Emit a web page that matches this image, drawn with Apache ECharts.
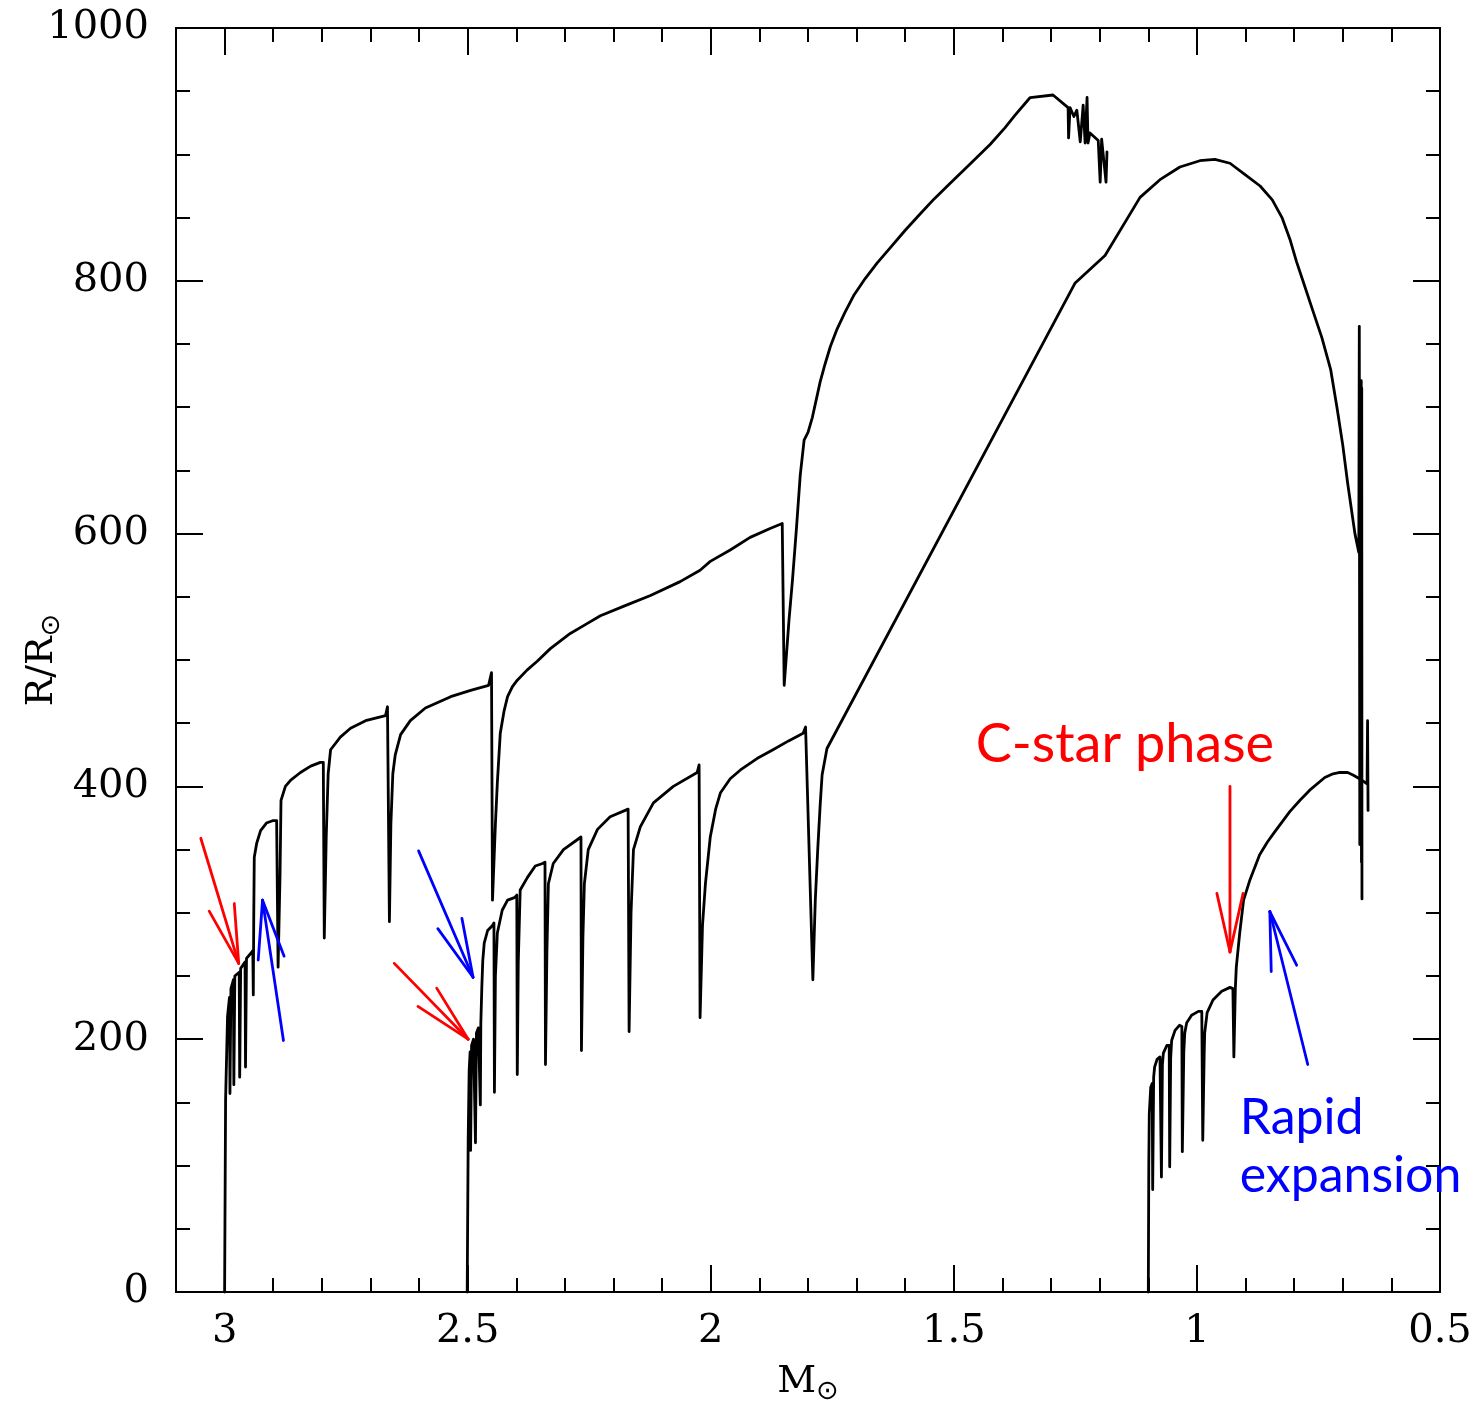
<!DOCTYPE html>
<html><head><meta charset="utf-8">
<script src="https://cdn.jsdelivr.net/npm/echarts@6/dist/echarts.min.js"></script>
<style>html,body{margin:0;padding:0;background:#fff}#c{width:1479px;height:1410px}</style>
</head><body><div id="c"></div>
<script>
// [mass (M_sun), radius (R_sun)]
const star30 = [[3.000,0],[2.998,152],[2.994,218],[2.990,233],[2.989,157],[2.987,240],[2.982,247],[2.981,164],[2.979,250],[2.970,253],[2.969,170],[2.967,256],[2.958,261],[2.957,178],[2.955,264],[2.946,268],[2.942,270],[2.941,235],[2.940,300],[2.939,344],[2.934,355],[2.926,365],[2.914,371],[2.900,373],[2.893,373],[2.890,257],[2.886,330],[2.884,389],[2.875,400],[2.864,405],[2.844,411],[2.823,416],[2.803,419],[2.797,419],[2.795,280],[2.791,360],[2.787,410],[2.782,429],[2.762,439],[2.741,446],[2.710,452],[2.669,456],[2.665,463],[2.661,293],[2.658,370],[2.654,410],[2.649,425],[2.638,441],[2.618,452],[2.587,462],[2.535,471],[2.494,476],[2.457,480],[2.451,490],[2.449,310],[2.443,370],[2.439,403],[2.433,442],[2.425,460],[2.418,471],[2.408,479],[2.398,484],[2.378,492],[2.357,499],[2.330,509],[2.289,521],[2.258,528],[2.227,535],[2.176,543],[2.124,551],[2.063,562],[2.022,571],[2.001,578],[1.960,587],[1.919,597],[1.878,604],[1.853,608],[1.849,480],[1.845,480],[1.839,532],[1.832,563],[1.824,603],[1.816,646],[1.808,674],[1.800,680],[1.791,692],[1.783,706],[1.775,720],[1.765,734],[1.754,748],[1.740,762],[1.724,775],[1.705,789],[1.682,802],[1.658,814],[1.631,826],[1.600,840],[1.569,853],[1.540,865],[1.508,877],[1.465,893],[1.425,908],[1.395,921],[1.374,931],[1.343,945],[1.296,947],[1.265,937],[1.264,913],[1.261,937],[1.253,930],[1.247,935],[1.240,910],[1.234,939],[1.230,909],[1.226,945],[1.224,909],[1.220,917],[1.203,911],[1.199,878],[1.196,912],[1.193,912],[1.187,878],[1.185,902]];
const star25 = [[2.501,0],[2.499,120],[2.497,175],[2.495,190],[2.494,112],[2.492,195],[2.488,200],[2.484,118],[2.482,205],[2.478,209],[2.475,210],[2.474,148],[2.473,212],[2.471,240],[2.469,262],[2.466,276],[2.459,286],[2.449,290],[2.446,292],[2.445,158],[2.443,250],[2.439,284],[2.429,302],[2.418,310],[2.404,312],[2.399,314],[2.398,172],[2.396,260],[2.392,318],[2.377,328],[2.361,337],[2.346,339],[2.341,340],[2.340,180],[2.337,270],[2.334,323],[2.324,339],[2.303,350],[2.274,358],[2.267,360],[2.266,191],[2.263,280],[2.260,323],[2.252,350],[2.233,366],[2.207,376],[2.176,381],[2.170,382],[2.168,206],[2.164,300],[2.159,350],[2.145,368],[2.118,387],[2.077,400],[2.028,411],[2.024,417],[2.022,217],[2.017,290],[2.011,323],[2.001,360],[1.990,382],[1.980,395],[1.960,406],[1.939,413],[1.905,422],[1.872,429],[1.840,436],[1.810,442],[1.805,447],[1.790,247],[1.785,310],[1.780,350],[1.775,385],[1.771,409],[1.761,430],[1.251,798],[1.189,820],[1.117,866],[1.076,880],[1.035,890],[0.994,895],[0.963,896],[0.932,893],[0.901,884],[0.870,875],[0.845,864],[0.825,850],[0.808,832],[0.795,815],[0.782,800],[0.763,778],[0.743,755],[0.725,730],[0.712,700],[0.700,670],[0.690,640],[0.675,600],[0.667,585],[0.666,764],[0.665,354],[0.664,720],[0.663,380],[0.662,721],[0.6615,340],[0.661,715],[0.6605,311]];
const star11 = [[1.100,0],[1.099,100],[1.098,141],[1.095,162],[1.092,165],[1.091,81],[1.089,170],[1.087,178],[1.082,184],[1.076,186],[1.074,186],[1.073,91],[1.071,180],[1.069,189],[1.062,195],[1.059,195],[1.057,195],[1.056,99],[1.054,185],[1.052,199],[1.045,207],[1.036,211],[1.031,210],[1.030,111],[1.027,190],[1.025,205],[1.021,213],[1.011,219],[0.997,222],[0.990,222],[0.988,120],[0.985,190],[0.984,205],[0.979,221],[0.967,231],[0.949,238],[0.932,241],[0.926,240],[0.924,186],[0.921,240],[0.919,257],[0.912,284],[0.904,310],[0.891,326],[0.871,346],[0.855,356],[0.840,364],[0.809,380],[0.788,389],[0.768,397],[0.737,407],[0.720,410],[0.706,411],[0.690,411],[0.679,409],[0.661,405],[0.650,402],[0.649,452],[0.648,381]];
// arrows: [tailMass, tailRadius, headMass, headRadius]
const redArrows = [[3.049,359,2.971,260],[2.651,260,2.499,200],[0.932,400,0.932,269]];
const blueArrows = [[2.879,199,2.922,310],[2.601,349,2.489,249],[0.772,180,0.850,301]];
// annotation texts: [mass, radius] anchor (left, middle)
const noteTexts = ['C-star phase', 'Rapid\nexpansion'];
const noteAnchors = [[1.455,433],[0.912,115]];
const noteColors = ['#ff0000', '#0000ff'];
const noteSizes = [54, 50];

const chart = echarts.init(document.getElementById('c'), null, {renderer:'canvas'});
const serif = 'DejaVu Serif';
const tickStyle = {color:'#000', width:2};
const nameRich = {a:{fontFamily:serif, fontSize:38, color:'#000', lineHeight:44},
                  b:{fontFamily:'DejaVu Sans', fontSize:27, color:'#000', lineHeight:27, padding:[20,0,0,0]}};
function xAx(pos, showLabel){
  return {type:'value', position:pos, inverse:true, min:0.5, max:3.1, interval:0.5,
    axisLine:{show:true, onZero:false, lineStyle:{color:'#000', width:2}},
    axisTick:{show:true, inside:true, length:27, lineStyle:tickStyle},
    minorTick:{show:true, splitNumber:5, length:14, lineStyle:tickStyle},
    splitLine:{show:false},
    axisLabel:{show:showLabel, fontFamily:serif, fontSize:40, color:'#000', margin:20,
      formatter:v => Math.abs(v*2-Math.round(v*2))<1e-6 ? String(v) : ''},
    name: showLabel ? '{a|M}{b|⊙}' : '', nameLocation:'middle', nameGap:68, nameMoveOverlap:false,
    nameTextStyle:{rich:nameRich}
  };
}
function yAx(pos, showLabel){
  return {type:'value', position:pos, min:0, max:1000, interval:200,
    axisLine:{show:true, onZero:false, lineStyle:{color:'#000', width:2}},
    axisTick:{show:true, inside:true, length:27, lineStyle:tickStyle},
    minorTick:{show:true, splitNumber:4, length:14, lineStyle:tickStyle},
    splitLine:{show:false},
    axisLabel:{show:showLabel, fontFamily:serif, fontSize:40, color:'#000', margin:27,
      formatter:v => String(v)},
    name: showLabel ? '{a|R/R}{b|⊙}' : '', nameLocation:'middle', nameGap:112, nameRotate:90, nameMoveOverlap:false,
    nameTextStyle:{rich:nameRich}
  };
}
function arrowRender(color){
  return function(params, api){
    const t = api.coord([api.value(0), api.value(1)]);
    const h = api.coord([api.value(2), api.value(3)]);
    const ang = Math.atan2(t[1]-h[1], t[0]-h[0]);
    const L = 60, da = 0.22;
    const b1 = [h[0]+L*Math.cos(ang+da), h[1]+L*Math.sin(ang+da)];
    const b2 = [h[0]+L*Math.cos(ang-da), h[1]+L*Math.sin(ang-da)];
    const st = {stroke:color, lineWidth:2.8, lineCap:'round'};
    return {type:'group', children:[
      {type:'line', shape:{x1:t[0],y1:t[1],x2:h[0],y2:h[1]}, style:st},
      {type:'line', shape:{x1:h[0],y1:h[1],x2:b1[0],y2:b1[1]}, style:st},
      {type:'line', shape:{x1:h[0],y1:h[1],x2:b2[0],y2:b2[1]}, style:st}
    ]};
  };
}
const lineStyle = {color:'#000', width:2.8, join:'round', cap:'round'};
function starSeries(name, data){
  return {name, type:'line', data, showSymbol:false, symbol:'none', lineStyle, clip:false, animation:false, z:3};
}
chart.setOption({
  animation:false,
  grid:{left:176, right:39, top:28, bottom:118, containLabel:false, outerBoundsMode:'none'},
  xAxis:[xAx('bottom', true), xAx('top', false)],
  yAxis:[yAx('left', true), yAx('right', false)],
  series:[
    starSeries('3.0', star30),
    starSeries('2.5', star25),
    starSeries('1.1', star11),
    {type:'custom', data:redArrows, renderItem:arrowRender('#ff0000'), encode:{x:[0,2], y:[1,3]}, silent:true, z:5, animation:false},
    {type:'custom', data:blueArrows, renderItem:arrowRender('#0000ff'), encode:{x:[0,2], y:[1,3]}, silent:true, z:5, animation:false},
    {type:'custom', data:noteAnchors, encode:{x:0, y:1}, silent:true, z:6, animation:false,
      renderItem:function(params, api){
        const i = params.dataIndex;
        const p = api.coord([api.value(0), api.value(1)]);
        return {type:'text', x:p[0], y:p[1], style:{text:noteTexts[i], fill:noteColors[i],
          fontFamily:'Lato', fontSize:noteSizes[i], lineHeight:58, align:'left', verticalAlign:'middle'}};
      }}
  ]
});
</script></body></html>
